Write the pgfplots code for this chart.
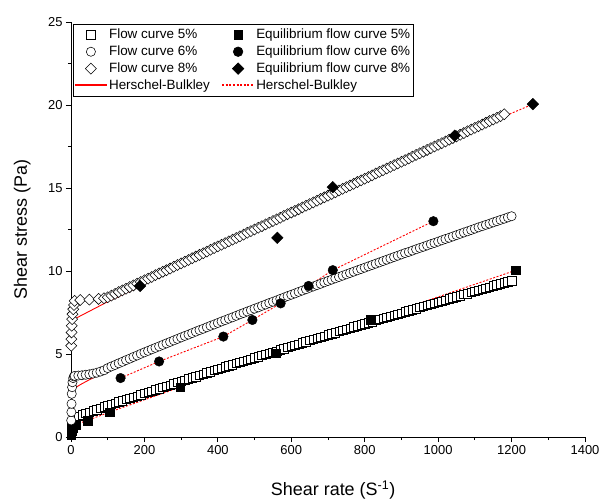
\documentclass[border=0pt]{standalone}
\usepackage{fontspec}
\setmainfont{Liberation Sans}
\usepackage{pgfplots}
\pgfplotsset{compat=1.18}

\pgfplotsset{
  flow/.style={only marks, mark options={draw=black, fill=white, line width=0.55bp}},
  eq/.style={only marks, mark options={draw=black, fill=black}},
  leg/.style={legend image code/.code={\draw[mark repeat=2,mark phase=2,##1] plot coordinates {(0bp,0bp)(16bp,0bp)(32bp,0bp)};}},
  legred/.style={legend image code/.code={\draw[##1, draw=red, line width=1.1bp] (0bp,0.5bp) -- (32bp,0.5bp);}},
  hb/.style={draw=red, color=red, line width=0.9bp},
  hbd/.style={draw=red, color=red, line width=0.9bp, dash pattern=on 2bp off 1.6bp},
}

\begin{document}
\begin{tikzpicture}
\useasboundingbox (-71bp,-65bp) rectangle (534bp,437bp);
\begin{axis}[
  scale only axis, width=514bp, height=415bp,
  xmin=0, xmax=1400, ymin=0, ymax=25,
  axis x line=bottom, axis y line=left,
  axis line style={-, line width=0.8bp},
  xtick={0,200,...,1400}, ytick={0,5,...,25},
  minor x tick num=1, minor y tick num=1,
  tick align=outside, major tick length=5bp, minor tick length=3bp,
  tick style={black, line width=0.8bp},
  ticklabel style={font=\fontsize{13}{15}\selectfont},
  /pgf/number format/assume math mode=true,
  /pgf/number format/1000 sep={},
  xlabel={Shear rate (S\textsuperscript{-1})},
  ylabel={Shear stress (Pa)},
  label style={font=\fontsize{18}{21}\selectfont},
  xlabel style={at={(axis description cs:0.51,-0.128)}, anchor=center},
  ylabel style={at={(axis description cs:-0.095,0.5)}, anchor=center},
  clip=false,
  legend columns=2,
  legend cell align=left,
  legend style={at={(axis description cs:0.004,0.995)}, anchor=north west,
    draw=black, line width=0.6bp, fill=white,
    font=\fontsize{13.5}{16}\selectfont,
    inner xsep=1bp, inner ysep=2bp,
    nodes={inner sep=1.6bp, text height=10.5bp, text depth=3.2bp},
    /tikz/every even column/.append style={column sep=10bp}},
]
% flow curve 5%
\addplot[flow, mark=square*, mark size=4.2bp, leg] coordinates {
(0.5,0.1)(1,0.25)(1.5,0.4)(2,0.55)(3,0.7)(4,0.85)(6,0.95)(8,1.05)
(10,1.18)(20,1.26)(30,1.34)(40,1.42)(50,1.50)(60,1.57)(70,1.65)(80,1.73)(90,1.81)(100,1.89)
(110,1.96)(120,2.04)(130,2.11)(140,2.18)(150,2.26)(160,2.33)(170,2.40)(180,2.47)(190,2.55)(200,2.62)
(210,2.69)(220,2.77)(230,2.84)(240,2.91)(250,2.99)(260,3.06)(270,3.13)(280,3.20)(290,3.28)(300,3.35)
(310,3.42)(320,3.50)(330,3.57)(340,3.64)(350,3.72)(360,3.79)(370,3.86)(380,3.93)(390,4.01)(400,4.08)
(410,4.15)(420,4.22)(430,4.29)(440,4.36)(450,4.43)(460,4.49)(470,4.56)(480,4.63)(490,4.70)(500,4.77)
(510,4.84)(520,4.91)(530,4.98)(540,5.05)(550,5.12)(560,5.18)(570,5.25)(580,5.32)(590,5.39)(600,5.46)
(610,5.53)(620,5.60)(630,5.67)(640,5.74)(650,5.81)(660,5.87)(670,5.94)(680,6.01)(690,6.08)(700,6.15)
(710,6.22)(720,6.29)(730,6.36)(740,6.42)(750,6.49)(760,6.56)(770,6.63)(780,6.69)(790,6.76)(800,6.82)
(810,6.89)(820,6.95)(830,7.02)(840,7.08)(850,7.15)(860,7.21)(870,7.28)(880,7.34)(890,7.41)(900,7.47)
(910,7.54)(920,7.60)(930,7.67)(940,7.73)(950,7.80)(960,7.86)(970,7.93)(980,7.99)(990,8.06)(1000,8.12)
(1010,8.19)(1020,8.25)(1030,8.32)(1040,8.38)(1050,8.45)(1060,8.51)(1070,8.58)(1080,8.64)(1090,8.71)(1100,8.77)
(1110,8.84)(1120,8.90)(1130,8.97)(1140,9.03)(1150,9.10)(1160,9.16)(1170,9.23)(1180,9.29)(1190,9.36)(1200,9.42)
};
\addlegendentry{Flow curve 5\%}
% equilibrium 5%
\addplot[eq, mark=square*, mark size=4.3bp, leg] coordinates {
(1,0.15)(3,0.35)(6,0.55)(12,0.75)(45,1.0)(105,1.5)(297,3.0)(558,5.05)(817,7.05)(1212,10.05)
};
\addlegendentry{Equilibrium flow curve 5\%}
% flow curve 6%
\addplot[flow, mark=*, mark size=4.6bp, leg] coordinates {
(0.5,1.0)(1,1.5)(1.5,2.0)(2,2.6)(3,3.0)(4,3.3)(6,3.55)(8,3.65)
(10,3.68)(20,3.70)(30,3.72)(40,3.75)(50,3.78)(60,3.82)(70,3.87)(80,3.94)(90,4.02)(100,4.15)
(110,4.25)(120,4.34)(130,4.44)(140,4.53)(150,4.63)(160,4.72)(170,4.82)(180,4.91)(190,5.01)(200,5.10)
(210,5.19)(220,5.28)(230,5.37)(240,5.46)(250,5.55)(260,5.64)(270,5.73)(280,5.82)(290,5.91)(300,6.00)
(310,6.09)(320,6.17)(330,6.26)(340,6.35)(350,6.44)(360,6.52)(370,6.61)(380,6.70)(390,6.78)(400,6.87)
(410,6.96)(420,7.04)(430,7.13)(440,7.21)(450,7.30)(460,7.39)(470,7.47)(480,7.56)(490,7.64)(500,7.73)
(510,7.81)(520,7.90)(530,7.98)(540,8.07)(550,8.15)(560,8.23)(570,8.32)(580,8.40)(590,8.49)(600,8.57)
(610,8.65)(620,8.74)(630,8.82)(640,8.90)(650,8.99)(660,9.07)(670,9.15)(680,9.23)(690,9.32)(700,9.40)
(710,9.48)(720,9.56)(730,9.64)(740,9.72)(750,9.80)(760,9.88)(770,9.96)(780,10.04)(790,10.12)(800,10.20)
(810,10.28)(820,10.36)(830,10.44)(840,10.52)(850,10.60)(860,10.68)(870,10.76)(880,10.84)(890,10.92)(900,11.00)
(910,11.08)(920,11.15)(930,11.23)(940,11.31)(950,11.39)(960,11.46)(970,11.54)(980,11.62)(990,11.69)(1000,11.77)
(1010,11.85)(1020,11.93)(1030,12.00)(1040,12.08)(1050,12.16)(1060,12.24)(1070,12.32)(1080,12.39)(1090,12.47)(1100,12.55)
(1110,12.63)(1120,12.70)(1130,12.78)(1140,12.85)(1150,12.93)(1160,13.00)(1170,13.08)(1180,13.15)(1190,13.23)(1200,13.30)
};
\addlegendentry{Flow curve 6\%}
% equilibrium 6%
\addplot[eq, mark=*, mark size=4.8bp, leg] coordinates {
(135,3.55)(240,4.55)(415,6.05)(494,7.05)(571,8.05)(647,9.1)(713,10.05)(987,13.0)
};
\addlegendentry{Equilibrium flow curve 6\%}
% flow curve 8%
\addplot[flow, mark=square*, mark size=3.9bp, mark options={draw=black, fill=white, line width=0.55bp, rotate=45}, leg] coordinates {
(0.5,5.5)(1,5.9)(1.5,6.3)(2,6.7)(3,7.1)(4,7.4)(6,7.7)(8,7.95)
(10,8.20)(25,8.25)(50,8.28)(75,8.32)(90,8.36)(100,8.42)
(110,8.52)(120,8.62)(130,8.73)(140,8.83)(150,8.93)(160,9.03)(170,9.13)(180,9.24)(190,9.34)(200,9.44)
(210,9.54)(220,9.64)(230,9.75)(240,9.85)(250,9.95)(260,10.05)(270,10.15)(280,10.26)(290,10.36)(300,10.46)
(310,10.56)(320,10.66)(330,10.77)(340,10.87)(350,10.97)(360,11.07)(370,11.17)(380,11.28)(390,11.38)(400,11.48)
(410,11.58)(420,11.68)(430,11.79)(440,11.89)(450,11.99)(460,12.09)(470,12.19)(480,12.30)(490,12.40)(500,12.50)
(510,12.60)(520,12.70)(530,12.81)(540,12.91)(550,13.01)(560,13.11)(570,13.21)(580,13.32)(590,13.42)(600,13.52)
(610,13.62)(620,13.72)(630,13.83)(640,13.93)(650,14.03)(660,14.13)(670,14.23)(680,14.34)(690,14.44)(700,14.54)
(710,14.64)(720,14.74)(730,14.85)(740,14.95)(750,15.05)(760,15.15)(770,15.25)(780,15.36)(790,15.46)(800,15.56)
(810,15.66)(820,15.76)(830,15.87)(840,15.97)(850,16.07)(860,16.17)(870,16.27)(880,16.38)(890,16.48)(900,16.58)
(910,16.68)(920,16.78)(930,16.89)(940,16.99)(950,17.09)(960,17.19)(970,17.29)(980,17.40)(990,17.50)(1000,17.60)
(1010,17.70)(1020,17.80)(1030,17.91)(1040,18.01)(1050,18.11)(1060,18.21)(1070,18.31)(1080,18.42)(1090,18.52)(1100,18.62)
(1110,18.72)(1120,18.82)(1130,18.93)(1140,19.03)(1150,19.13)(1160,19.23)(1170,19.33)(1180,19.44)
};
\addlegendentry{Flow curve 8\%}
% equilibrium 8%
\addplot[eq, mark=square*, mark size=4.1bp, mark options={draw=black, fill=black, rotate=45}, leg] coordinates {
(188,9.1)(562,12.0)(713,15.05)(1045,18.15)(1258,20.05)
};
\addlegendentry{Equilibrium flow curve 8\%}
% Herschel-Bulkley fits to the flow curves
\addplot[hb, legred] coordinates {
(0,0.95)(50,1.33)(100,1.72)(200,2.5)(300,3.22)(400,3.93)(500,4.63)(600,5.33)
(700,6.02)(800,6.7)(900,7.36)(1000,8.02)(1100,8.66)(1200,9.28)
};
\addlegendentry{Herschel-Bulkley}
% Herschel-Bulkley, equilibrium curves
\addplot[hbd, legred] coordinates {
(1,0.15)(3,0.35)(6,0.55)(12,0.75)(45,1.0)(105,1.5)(297,3.0)(558,5.05)(817,7.05)(1212,10.05)
};
\addlegendentry{Herschel-Bulkley}
\addplot[hb, forget plot] coordinates {
(0,2.8)(25,3.15)(50,3.45)(100,4.0)(200,4.95)(300,5.85)(400,6.72)(500,7.58)
(600,8.42)(700,9.25)(800,10.05)(900,10.85)(1000,11.62)(1100,12.4)(1200,13.15)
};
\addplot[hb, forget plot] coordinates {
(0,7.0)(100,8.15)(200,9.2)(300,10.25)(500,12.3)(700,14.4)(900,16.45)(1100,18.5)(1180,19.3)
};
\addplot[hbd, forget plot] coordinates {
(135,3.55)(240,4.55)(415,6.05)(494,7.05)(571,8.05)(647,9.1)(713,10.05)(987,13.0)
};
\addplot[hbd, forget plot] coordinates {
(188,9.2)(600,13.45)(1045,18.05)(1258,20.05)
};
\end{axis}
\end{tikzpicture}
\end{document}
